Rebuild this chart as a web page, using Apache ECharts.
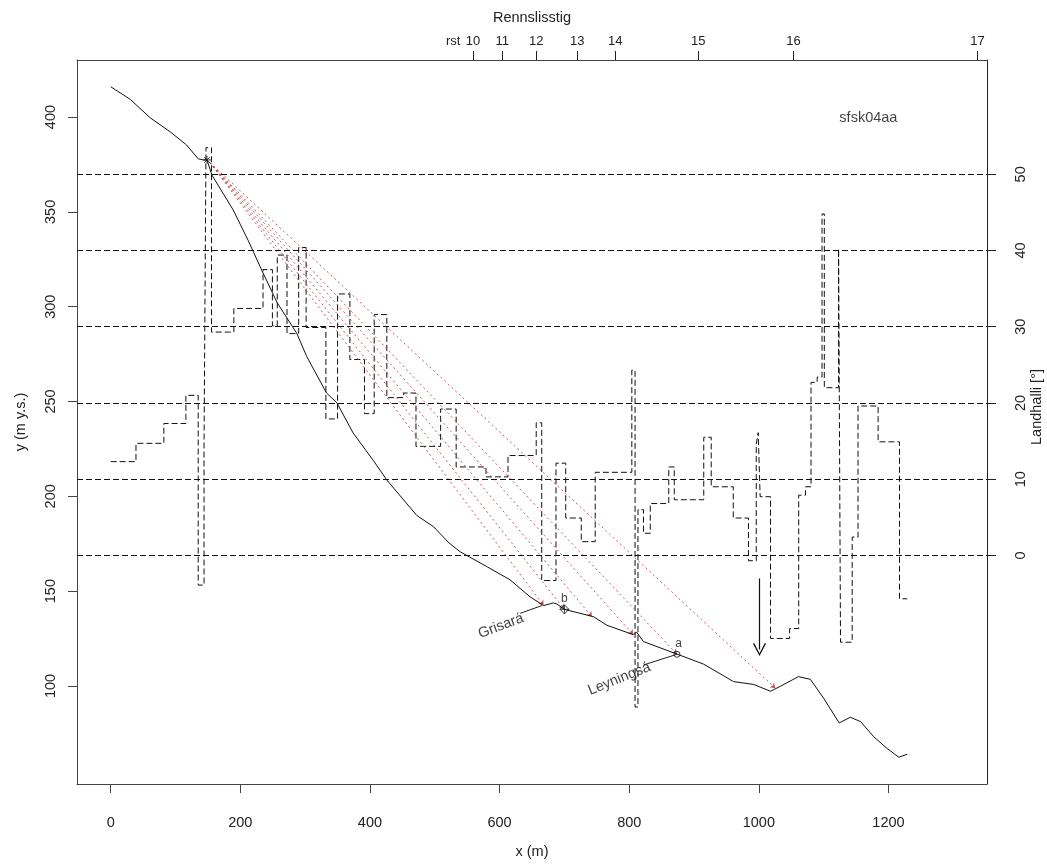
<!DOCTYPE html>
<html>
<head>
<meta charset="utf-8">
<script src="https://cdn.jsdelivr.net/npm/echarts@6/dist/echarts.min.js"></script>
<style>
  html, body { margin: 0; padding: 0; background: #fff; }
  #main { width: 1047px; height: 864px; }
</style>
</head>
<body>
<div id="main"></div>
<script>
// terrain profile (x in m, y in m y.s.)
var profileX = [0, 30, 61, 91.5, 117, 135, 142.5, 148.6, 156, 189, 212, 235, 257, 287, 302.5, 333, 349, 374, 405, 426,
  472, 498, 522, 539, 580, 616, 647, 668, 683, 688.5, 700, 745, 765.6, 806.7, 811, 822, 873.7, 914.8, 961, 992,
  1018, 1033, 1061, 1079.5, 1100, 1124, 1141, 1157, 1177, 1198, 1216, 1229];
var profileY = [416, 409.4, 399.6, 392.3, 385.3, 378, 377.4, 377.4, 369.5, 351, 335, 317.8, 302, 286, 273.7, 254.5, 249.3, 233.4, 219, 208.6,
  190, 184, 175.4, 170.8, 163, 156, 147, 142.4, 143.8, 143.2, 140.4, 136.5, 132, 127, 128.5, 123.4, 116.8, 111.5, 102.3, 100.8,
  97.2, 99.8, 104.9, 103.5, 93.5, 80.5, 83.5, 81.2, 73.3, 67, 62.4, 64];

// slope (Landhalli, degrees), step start positions
var slopeX = [0, 39, 82, 116, 135, 144, 147, 155.5, 190, 235, 249.5, 257, 272, 290, 301.5, 332, 350, 369, 391.5, 406.5,
  426, 452, 471, 509, 533, 579, 613, 656.5, 665, 687, 702, 726, 747.5, 804, 809, 813.5, 822, 832.5, 861, 869.5,
  915, 926.5, 960.5, 984, 996, 999, 1002, 1018, 1047.5, 1061.5, 1072, 1080.5, 1090, 1097.5, 1101, 1123, 1126, 1144, 1153, 1184,
  1217, 1229];
var slopeAngle = [12.3, 14.7, 17.3, 21.0, -3.9, 14.4, 53.5, 29.3, 32.4, 37.5, 30.1, 39.4, 29.1, 40.4, 29.9, 17.9, 34.3, 25.7, 18.6, 31.6,
  20.7, 21.3, 14.3, 19.2, 11.6, 10.3, 13.1, 17.4, -3.3, 12.1, 4.9, 1.8, 10.9, 24.3, -19.9, 6.0, 2.9, 6.8, 11.6, 7.3,
  15.5, 9.0, 4.9, -0.7, 14.6, 16.1, 7.7, -10.9, -9.6, 7.9, 9.0, 22.7, 23.4, 44.8, 22.0, 40.2, -11.4, 2.4, 19.6, 14.9,
  -5.7, -5.7];

// run-out lines from release point
var releasePoint = [153, 376];
var reachX = [668, 700, 742.5, 806.4, 873.7, 1025.5];
var reachY = [142.4, 140.4, 136.5, 127, 116.8, 98.8];

// ticks
var xTicks = [0, 200, 400, 600, 800, 1000, 1200];
var yTicks = [100, 150, 200, 250, 300, 350, 400];
var angleTicks = [0, 10, 20, 30, 40, 50];
var topTickPos = [558.8, 604, 656.5, 719.8, 778.5, 906.6, 1053.3, 1337.3];
var topTickLabels = ['10', '11', '12', '13', '14', '15', '16', '17'];
var rstPos = 528.4;

// annotations
var arrowX = 1001;
var arrowY = [156.7, 119.2];
var grisaLine = [[631.8, 138.3], [665.3, 142.4]];
var leyLine = [[822.2, 111.1], [873.7, 116.7]];
var pointA = [873.7, 116.7];
var pointB = [700, 140.4];
var releaseMark = [148.6, 377.4];

var FONT = 'Liberation Sans';
var topLabelPos = [rstPos].concat(topTickPos);
var topLabelText = ['rst'].concat(topTickLabels);

var chart = echarts.init(document.getElementById('main'));

var profileData = profileX.map(function (x, i) { return [x, profileY[i]]; });
var slopeData = slopeX.map(function (x, i) { return [x, slopeAngle[i]]; });
var reachData = reachX.map(function (x, i) { return { coords: [releasePoint, [x, reachY[i]]] }; });

chart.setOption({
  animation: false,
  backgroundColor: '#fff',
  textStyle: { fontFamily: FONT, color: '#222' },
  grid: { left: 77, right: 60, top: 60, bottom: 80, outerBoundsMode: 'none', containLabel: false },
  // right axis title sits a bit above the middle in the original
  graphic: [{
    type: 'text', x: 1037, y: 407, rotation: Math.PI / 2,
    style: { text: 'Landhalli [°]', fontFamily: FONT, fontSize: 14.5, fill: '#222', align: 'center', verticalAlign: 'middle' }
  }],
  xAxis: [{
    type: 'value', position: 'bottom', min: -52, max: 1352,
    name: 'x (m)', nameLocation: 'middle', nameGap: 60,
    nameTextStyle: { fontSize: 14.5, color: '#222', verticalAlign: 'top' },
    axisLine: { show: true, onZero: false, lineStyle: { color: '#444' } },
    axisTick: { show: true, length: 9, customValues: xTicks, lineStyle: { color: '#444' } },
    axisLabel: {
      customValues: xTicks, margin: 31, fontSize: 14.5, color: '#222',
      formatter: function (v) { return String(Math.round(v)); }
    },
    splitLine: { show: false }
  }, {
    type: 'value', position: 'top', min: -52, max: 1352,
    name: 'Rennslisstig', nameLocation: 'middle', nameGap: 35,
    nameTextStyle: { fontSize: 14.5, color: '#222' },
    axisLine: { show: true, onZero: false, lineStyle: { color: '#444' } },
    axisTick: { show: true, length: 9, customValues: topTickPos, lineStyle: { color: '#222' } },
    axisLabel: {
      customValues: topLabelPos, margin: 12, fontSize: 13, color: '#222',
      formatter: function (v) {
        var best = 0;
        topLabelPos.forEach(function (p, i) { if (Math.abs(p - v) < Math.abs(topLabelPos[best] - v)) best = i; });
        return topLabelText[best];
      }
    },
    splitLine: { show: false }
  }],
  yAxis: [{
    type: 'value', position: 'left', min: 48.3, max: 430.1,
    name: 'y (m y.s.)', nameLocation: 'middle', nameGap: 49, nameRotate: 90,
    nameTextStyle: { fontSize: 14.5, color: '#222' },
    axisLine: { show: true, onZero: false, lineStyle: { color: '#444' } },
    axisTick: { show: true, length: 9, customValues: yTicks, lineStyle: { color: '#444' } },
    axisLabel: {
      customValues: yTicks, rotate: 90, margin: 19, fontSize: 14.5, color: '#222',
      formatter: function (v) { return String(Math.round(v)); }
    },
    splitLine: { show: false }
  }, {
    type: 'value', position: 'right', min: -30, max: 65,
    axisLine: { show: true, onZero: false, lineStyle: { color: '#222' } },
    axisTick: { show: true, length: 9, customValues: angleTicks, lineStyle: { color: '#222' } },
    axisLabel: {
      customValues: angleTicks, rotate: 90, margin: 26, fontSize: 14.5, color: '#222',
      formatter: function (v) { return String(Math.round(v)); }
    },
    splitLine: { show: false }
  }],
  series: [{
    name: 'slope',
    type: 'line',
    xAxisIndex: 0, yAxisIndex: 1,
    step: 'end',
    symbol: 'none',
    data: slopeData,
    lineStyle: { color: '#111', width: 1, type: [6, 3] },
    markLine: {
      silent: true,
      symbol: ['none', 'none'],
      label: { show: false },
      lineStyle: { color: '#111', width: 1, type: [6, 3] },
      data: angleTicks.map(function (v) { return { yAxis: v }; })
    },
    z: 2
  }, {
    name: 'reach',
    type: 'lines',
    coordinateSystem: 'cartesian2d',
    xAxisIndex: 0, yAxisIndex: 0,
    symbol: ['none', 'arrow'],
    symbolSize: 5,
    lineStyle: { color: '#b84a4a', width: 1, type: [2, 3], opacity: 0.9 },
    data: reachData,
    z: 3
  }, {
    name: 'profile',
    type: 'line',
    xAxisIndex: 0, yAxisIndex: 0,
    symbol: 'none',
    data: profileData,
    lineStyle: { color: '#111', width: 1 },
    z: 4
  }, {
    name: 'annotLines',
    type: 'lines',
    coordinateSystem: 'cartesian2d',
    xAxisIndex: 0, yAxisIndex: 0,
    lineStyle: { color: '#222', width: 1, type: 'solid', opacity: 1 },
    data: [{ coords: grisaLine }, { coords: leyLine }],
    z: 4
  }, {
    name: 'arrow',
    type: 'lines',
    coordinateSystem: 'cartesian2d',
    xAxisIndex: 0, yAxisIndex: 0,
    symbol: ['none', 'path://M0,10 L5,0 L10,10 L9.1,10.5 L5,2.2 L0.9,10.5 Z'],
    symbolSize: [12, 13],
    lineStyle: { color: '#111', width: 1.2, opacity: 1 },
    data: [{ coords: [[arrowX, arrowY[0]], [arrowX, arrowY[1]]] }],
    z: 4
  }, {
    name: 'markers',
    type: 'scatter',
    xAxisIndex: 0, yAxisIndex: 0,
    itemStyle: { color: 'rgba(0,0,0,0)', borderColor: '#111', borderWidth: 1 },
    data: [
      { value: releaseMark, symbol: 'path://M5,0 L5,10 M0,5 L10,5 M1.5,1.5 L8.5,8.5 M8.5,1.5 L1.5,8.5', symbolSize: 8 },
      { value: pointB, symbol: 'path://M5,0 L10,5 L5,10 L0,5 Z M5,0 L5,10 M0,5 L10,5', symbolSize: 9 },
      { value: pointA, symbol: 'circle', symbolSize: 6 }
    ],
    z: 5
  }, {
    name: 'labels',
    type: 'scatter',
    xAxisIndex: 0, yAxisIndex: 0,
    symbolSize: 0,
    label: { show: true, position: 'inside', color: '#111', fontFamily: FONT, fontSize: 14.5 },
    data: [
      { value: [1169, 399.6], label: { formatter: 'sfsk04aa' } },
      { value: [602, 131.6], label: { formatter: 'Grisará', rotate: 21 } },
      { value: [784.7, 103.7], label: { formatter: 'Leyningsá', rotate: 22 } },
      { value: [876, 122.5], label: { formatter: 'a', fontSize: 12 } },
      { value: [700, 145.9], label: { formatter: 'b', fontSize: 12 } }
    ],
    z: 6
  }]
});
</script>
</body>
</html>
